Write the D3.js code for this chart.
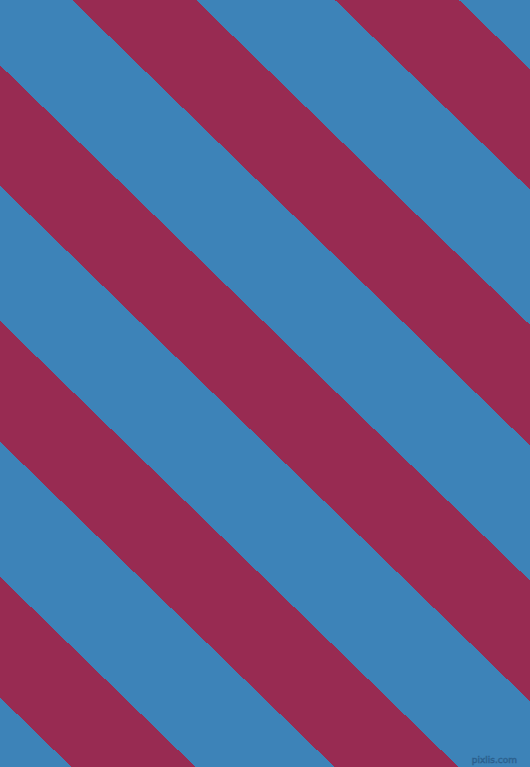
<!DOCTYPE html>
<html>
<head>
<meta charset="utf-8">
<script src="https://cdn.jsdelivr.net/npm/d3@7"></script>
<style>
  html, body { margin: 0; padding: 0; background: #3d83b8; }
  svg { display: block; }
</style>
</head>
<body>
<div id="chart"></div>
<script>
// data
var stripeIndex = [-4, -3, -2, -1, 0, 1];      // which red stripes we see
var stripeNames = ["blue", "red"];
var stripeColors = ["#3d83b8", "#982b52"];
var stripeShare = [139, 124];                  // blue, red share of one period
var stripeLean = 1.028;                        // dx per dy for the edges
var footText = ["pixlis.com"];

var width = 530;
var height = 767;
var period = stripeShare[0] + stripeShare[1];

var svg = d3.select('#chart')
    .append('svg')
    .attr('width', width)
    .attr('height', height);

// background = blue band
svg.append('rect')
    .attr('width', width)
    .attr('height', height)
    .style('fill', stripeColors[0]);

// index -> offset along the sheared x
var xScale = d3.scaleLinear()
    .domain([0, 1])
    .range([72, 72 + period]);

var skewDeg = Math.atan(stripeLean) * 180 / Math.PI;

var g = svg.append('g')
    .attr('transform', 'skewX(' + skewDeg + ')');

g.selectAll('rect.stripe')
    .data(stripeIndex).enter()
    .append('rect')
    .attr('class', 'stripe')
    .attr('x', function (d) { return xScale(d); })
    .attr('y', -5)
    .attr('width', stripeShare[1])
    .attr('height', height + 10)
    .style('fill', stripeColors[1])
    .attr('shape-rendering', 'crispEdges');

// watermark nere till höger
svg.selectAll('text.foot')
    .data(footText).enter()
    .append('text')
    .attr('class', 'foot')
    .attr('x', 517)
    .attr('y', 763)
    .attr('text-anchor', 'end')
    .style('font-family', 'DejaVu Sans, sans-serif')
    .style('font-size', '9px')
    .style('fill', '#3a7cb0')
    .style('stroke', '#2b5f8c')
    .style('stroke-width', 0.6)
    .text(function (d) { return d; });
</script>
</body>
</html>
